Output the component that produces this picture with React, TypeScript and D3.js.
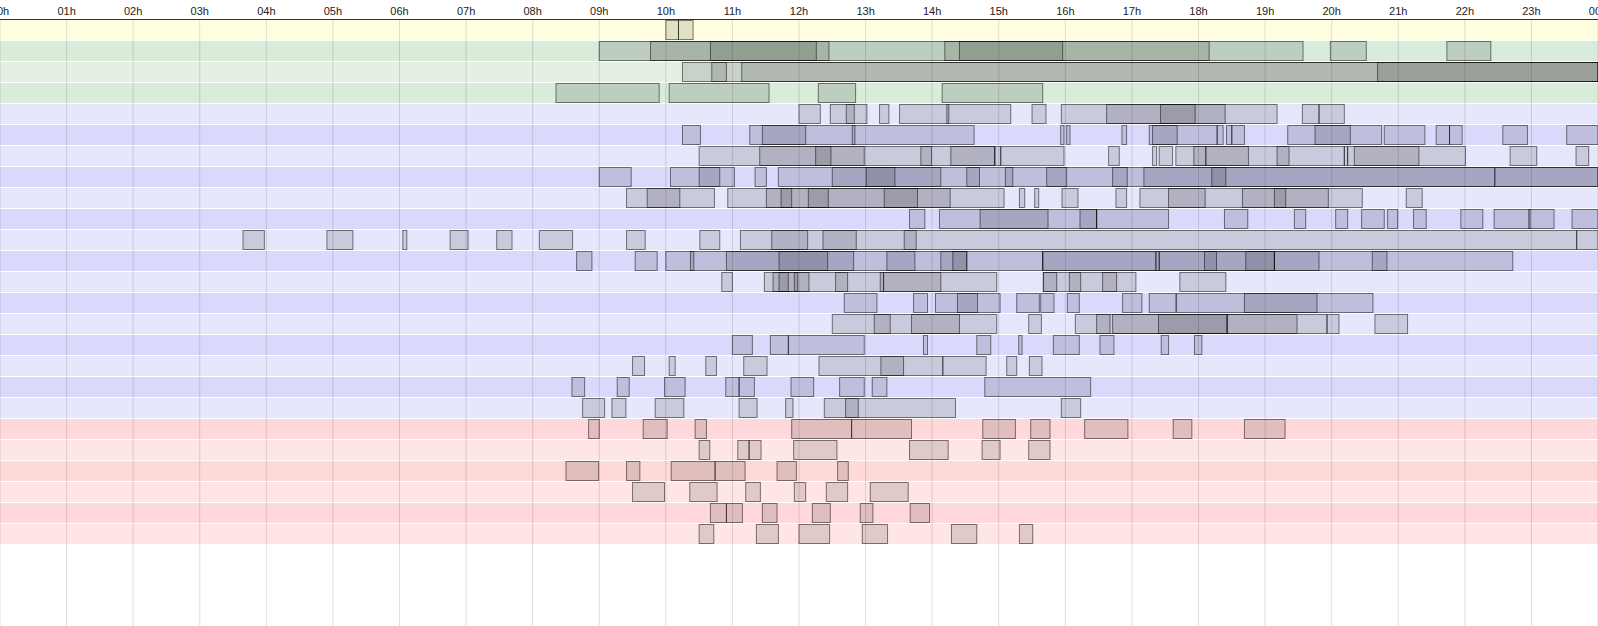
import React from "react";
import * as d3 from "d3";

// ---- data (hours of day) ----
const tickLabels = ["00h","01h","02h","03h","04h","05h","06h","07h","08h","09h","10h","11h","12h","13h","14h","15h","16h","17h","18h","19h","20h","21h","22h","23h","00h"];

const yellowRows: number[][][] = [
  [[10.0,10.19],[10.19,10.41]],
];

const greenRows: number[][][] = [
  [[9.0,19.57],[9.77,12.45],[10.67,12.26],[14.19,18.16],[14.41,15.96],[19.98,20.52],[21.73,22.39]],
  [[10.25,24],[10.69,10.91],[11.14,24],[20.69,24]],
  [[8.35,9.9],[10.05,11.55],[12.29,12.85],[14.15,15.66]],
];

const blueRows: number[][][] = [
  [[12.0,12.32],[12.47,12.83],[12.71,13.02],[13.21,13.35],[13.51,14.25],[14.22,15.18],[15.5,15.71],[15.94,19.18],[16.62,18.4],[17.43,17.95],[19.56,19.81],[19.81,20.19]],
  [[10.25,10.52],[11.26,12.1],[11.45,12.84],[12.8,14.63],[15.93,15.98],[16.02,16.07],[16.85,16.92],[17.26,18.28],[17.31,17.68],[18.28,18.37],[18.42,18.5],[18.5,18.69],[19.34,20.28],[19.75,20.75],[20.79,21.4],[21.57,21.77],[21.77,21.96],[22.57,22.94],[23.53,24]],
  [[10.5,14.94],[11.41,12.98],[12.25,12.48],[13.83,13.99],[14.28,14.94],[14.94,15.03],[15.03,15.98],[16.65,16.81],[17.31,17.37],[17.41,17.61],[17.66,18.11],[17.93,19.36],[18.11,18.75],[19.18,20.19],[20.19,20.24],[20.24,22.01],[20.34,21.31],[22.68,23.08],[23.67,23.86]],
  [[9.0,9.48],[10.07,10.81],[10.5,11.03],[11.34,11.51],[11.69,14.71],[12.5,14.13],[13.01,13.44],[14.52,16.02],[15.1,15.21],[15.72,16.93],[16.71,24],[17.18,22.45],[18.2,18.41],[22.45,24]],
  [[9.41,10.73],[9.72,10.21],[10.93,15.08],[11.51,14.27],[11.73,11.89],[12.14,12.44],[13.28,13.78],[15.31,15.39],[15.54,15.6],[15.95,16.19],[16.76,16.92],[17.12,20.46],[17.55,18.1],[18.66,19.95],[19.14,19.31],[21.12,21.36]],
  [[13.66,13.89],[14.11,15.74],[14.72,16.47],[16.22,16.47],[16.47,17.55],[18.39,18.74],[19.44,19.61],[20.06,20.24],[20.45,20.79],[20.84,20.99],[21.23,21.42],[21.94,22.27],[22.44,22.98],[22.96,23.34],[23.61,24]],
  [[3.65,3.97],[4.91,5.3],[6.05,6.11],[6.76,7.03],[7.46,7.69],[8.1,8.6],[9.41,9.69],[10.51,10.81],[11.12,13.76],[11.59,12.13],[12.36,12.86],[13.58,23.68],[23.68,24]],
  [[8.66,8.89],[9.54,9.87],[10.0,10.42],[10.37,12.82],[10.91,12.43],[11.7,13.74],[13.32,14.52],[14.13,15.66],[14.31,14.52],[15.66,17.36],[15.66,19.14],[17.36,17.41],[17.41,19.14],[18.09,18.27],[18.71,19.81],[19.14,20.83],[20.61,22.72]],
  [[10.84,11.0],[11.48,12.15],[11.61,12.73],[11.7,11.84],[11.93,11.98],[12.55,14.13],[13.22,13.27],[13.27,14.97],[15.67,17.06],[15.67,15.87],[16.06,16.23],[16.56,16.77],[17.72,18.41]],
  [[12.68,13.17],[13.72,13.93],[14.05,14.68],[14.38,15.02],[15.27,15.61],[15.63,15.83],[16.03,16.21],[16.86,17.15],[17.26,17.66],[17.67,19.78],[18.69,20.62]],
  [[12.5,13.37],[13.13,14.41],[13.69,14.97],[15.45,15.64],[16.15,16.67],[16.47,18.43],[16.71,19.48],[17.4,18.43],[18.43,19.93],[19.93,20.11],[20.65,21.14]],
  [[11.0,11.3],[11.57,11.84],[11.84,12.98],[13.87,13.93],[14.67,14.88],[15.3,15.35],[15.82,16.21],[16.52,16.73],[17.44,17.55],[17.94,18.05]],
  [[9.5,9.68],[10.05,10.14],[10.6,10.76],[11.17,11.52],[12.3,13.57],[13.23,14.16],[14.16,14.81],[15.12,15.27],[15.46,15.65]],
  [[8.59,8.78],[9.27,9.45],[9.98,10.29],[10.9,11.1],[11.1,11.33],[11.88,12.22],[12.61,12.98],[13.1,13.32],[14.79,16.38]],
  [[8.75,9.08],[9.19,9.4],[9.84,10.27],[11.1,11.37],[11.8,11.91],[12.38,12.89],[12.7,14.35],[15.94,16.23]],
];

const redRows: number[][][] = [
  [[8.84,9.0],[9.66,10.02],[10.44,10.61],[11.89,12.79],[12.79,13.69],[14.76,15.25],[15.48,15.77],[16.29,16.94],[17.62,17.9],[18.69,19.3]],
  [[10.5,10.66],[11.08,11.25],[11.25,11.43],[11.92,12.57],[13.66,14.24],[14.75,15.02],[15.45,15.77]],
  [[8.5,8.99],[9.41,9.61],[10.08,10.74],[10.74,11.19],[11.67,11.96],[12.58,12.74]],
  [[9.5,9.98],[10.36,10.77],[11.2,11.42],[11.93,12.1],[12.41,12.73],[13.07,13.64]],
  [[10.67,10.91],[10.91,11.15],[11.45,11.67],[12.2,12.47],[12.92,13.11],[13.67,13.96]],
  [[10.5,10.72],[11.36,11.69],[12.0,12.46],[12.95,13.33],[14.29,14.67],[15.31,15.51]],
];

// ---- styles ----
const WIDTH = 1598;
const HEIGHT = 626;
const TOP = 20;
const ROW_STEP = 21;
const ROW_H = 20;

const groupColors: Record<string, [string, string]> = {
  yellow: ["#ffffe0", "#ffffe0"],
  green: ["#e5f0e5", "#d9ebd9"],
  blue: ["#e6e6fc", "#d9d9fc"],
  red: ["#ffe5e5", "#ffd9d9"],
};

export default function App() {
  const x = d3.scaleLinear().domain([0, 24]).range([0, WIDTH]);
  const groups: [string, number[][][]][] = [
    ["yellow", yellowRows],
    ["green", greenRows],
    ["blue", blueRows],
    ["red", redRows],
  ];
  const rows: { color: string; items: number[][] }[] = [];
  groups.forEach(([g, rs]) => {
    rs.forEach((items) => {
      const idx = rows.length;
      rows.push({ color: groupColors[g][idx % 2], items });
    });
  });
  const hours = d3.range(0, 25);

  return (
    <>
      <style>{`html,body{margin:0;padding:0;overflow:hidden;background:#fff}`}</style>
      <svg width={WIDTH} height={HEIGHT} style={{ display: "block" }}>
        {rows.map((r, i) => (
          <rect key={"bg" + i} x={0} y={TOP + i * ROW_STEP} width={WIDTH} height={ROW_H} fill={r.color} />
        ))}
        {hours.map((h) => (
          <line key={"g" + h} x1={x(h)} x2={x(h)} y1={TOP} y2={HEIGHT} stroke="rgba(0,0,0,0.13)" strokeWidth={1} />
        ))}
        {rows.map((r, i) =>
          r.items.map((d, j) => (
            <rect
              key={"r" + i + "_" + j}
              x={x(d[0])}
              y={TOP + i * ROW_STEP + 0.5}
              width={Math.max(0, x(d[1]) - x(d[0]))}
              height={ROW_H - 1}
              fill="rgba(0,0,0,0.12)"
              stroke="rgba(0,0,0,0.5)"
              strokeWidth={1}
            />
          ))
        )}
        <line x1={0} x2={WIDTH} y1={19.5} y2={19.5} stroke="#333" strokeWidth={1} />
        {hours.map((h) => (
          <text key={"t" + h} x={x(h)} y={15} textAnchor="middle" fontFamily="'Liberation Sans', Arial, sans-serif" fontSize={11} fill="#222">
            {tickLabels[h]}
          </text>
        ))}
      </svg>
    </>
  );
}
